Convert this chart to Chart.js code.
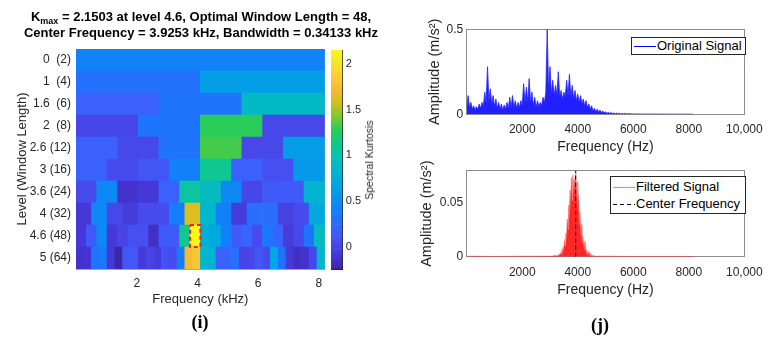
<!DOCTYPE html>
<html><head><meta charset="utf-8">
<script src="https://cdn.jsdelivr.net/npm/chart.js@4/dist/chart.umd.min.js"></script>
<style>
html,body{margin:0;padding:0;background:#fff;}
#wrap{position:relative;width:771px;height:338px;overflow:hidden;font-family:"Liberation Sans",Arial,Helvetica,sans-serif;}
canvas{position:absolute;}
.t{position:absolute;white-space:nowrap;color:#000;}
.ttl{left:0;width:402px;text-align:center;font-weight:bold;font-size:13px;line-height:16px;}
.ttl sub{font-size:9px;vertical-align:-3px;line-height:0;}
.lg{position:absolute;background:#fff;border:1px solid #262626;font-size:13px;color:#000;}
.lg .row{position:absolute;left:0;height:16px;line-height:16px;white-space:nowrap;}
.lg svg{position:absolute;left:1px;top:0;}
.lg span{position:absolute;left:25px;top:0;}
.cap{font-family:"Liberation Serif","Times New Roman",serif;font-weight:bold;font-size:18px;}
</style></head><body>
<div id="wrap">
  <canvas id="heat" width="330" height="338" style="left:0;top:0"></canvas>
  <canvas id="cbar" width="60" height="338" style="left:326px;top:0"></canvas>
  <canvas id="orig" width="371" height="160" style="left:400px;top:0"></canvas>
  <canvas id="filt" width="371" height="178" style="left:400px;top:160px"></canvas>
  <div class="t ttl" id="title1" style="top:9px"></div>
  <div class="t ttl" id="title2" style="top:25px"></div>
  <div class="t" id="cbLabel" style="left:369px;top:160px;font-size:10.5px;color:#262626;transform:translate(-50%,-50%) rotate(-90deg);"></div>
  <div class="lg" style="left:631px;top:37px;width:113px;height:16px;">
    <div class="row" style="top:0;width:113px"><svg width="23" height="16"><line x1="1" y1="8.5" x2="23" y2="8.5" stroke="#0000ff" stroke-width="1"/></svg><span id="lgOrig"></span></div>
  </div>
  <div class="lg" style="left:610px;top:176px;width:134px;height:36px;">
    <div class="row" style="top:2px;width:134px"><svg width="23" height="16"><line x1="1" y1="8.5" x2="23" y2="8.5" stroke="#ff8080" stroke-width="1.2"/></svg><span id="lgFilt"></span></div>
    <div class="row" style="top:19px;width:134px"><svg width="23" height="16"><line x1="1" y1="8.5" x2="23" y2="8.5" stroke="#000" stroke-width="1" stroke-dasharray="4,3"/></svg><span id="lgCenter"></span></div>
  </div>
  <div class="t cap" style="left:200px;top:322px;transform:translate(-50%,-50%);">(i)</div>
  <div class="t cap" style="left:600px;top:325px;transform:translate(-50%,-50%);">(j)</div>
</div>
<script>
// ---------------- DATA ----------------
// Kurtogram (spectral kurtosis per level / frequency band)
const levelLabels = ['0  (2)','1  (4)','1.6  (6)','2  (8)','2.6 (12)','3 (16)','3.6 (24)','4 (32)','4.6 (48)','5 (64)'];
const skLevel0   = [0.42];
const skLevel1   = [0.30, 0.62];
const skLevel1_6 = [0.20, 0.32, 0.88];
const skLevel2   = [0.02, 0.32, 1.28, 0.03];
const skLevel2_6 = [0.20, 0.03, 0.32, 1.33, 0.03, 0.60];
const skLevel3   = [0.20, 0.05, 0.12, 0.40, 1.10, 0.20, 0.08, 0.58];
const skLevel3_6 = [0.05, 0.45, -0.12, -0.08, 0.20, 1.05, 0.92, 0.45, 0.02, 0.15, 0.15, 0.82];
const skLevel4   = [-0.08, 0.45, 0.03, -0.05, 0.06, 0.06, 0.38, 1.62, 0.86, 0.40, -0.05, 0.28, 0.28, -0.02, 0.05, 0.70];
const skLevel4_6 = [-0.08, 0.15, 0.45, -0.08, 0.00, 0.08, 0.08, -0.15, 0.15, 0.15, 1.12, 2.1503, 0.75, 0.70, 0.40, 0.15, 0.22, 0.05, 0.35, 0.22, -0.05, 0.03, 0.32, 0.90];
const skLevel5   = [-0.12, -0.10, 0.32, 0.35, -0.08, -0.24, 0.13, 0.13, -0.07, 0.00, -0.05, 0.10, 0.05, 0.38, 1.72, 1.82, 0.85, 0.82, 0.20, 0.22, 0.30, 0.00, 0.02, 0.12, 0.05, 0.68, 0.32, -0.07, -0.15, -0.12, 0.03, 0.85];
const skRows = [skLevel0, skLevel1, skLevel1_6, skLevel2, skLevel2_6, skLevel3, skLevel3_6, skLevel4, skLevel4_6, skLevel5];
const nyquistKHz = 8.192;
const heatXTicks = [2, 4, 6, 8];
const colorbarTicks = [0, 0.5, 1, 1.5, 2];
const colorbarTickLabels = ['0', '0.5', '1', '1.5', '2'];

// Result of the kurtogram
const kMax = 2.1503, bestLevel = '4.6', bestWindow = 48, bestLevelIndex = 8;
const centerKHz = 3.9253, bandwidthKHz = 0.34133;

// Original signal spectrum (bins every 50 Hz, m/s^2)
const origStepHz = 50;
const origAmp = [
 0.03,0.11,0.04,0.07,0.03,0.05,0.025,0.045,0.03,0.06,
 0.035,0.07,0.045,0.13,0.07,0.28,0.08,0.15,0.06,0.11,
 0.045,0.09,0.035,0.07,0.03,0.06,0.025,0.055,0.03,0.07,
 0.035,0.10,0.04,0.11,0.04,0.08,0.035,0.07,0.04,0.08,
 0.05,0.18,0.07,0.16,0.07,0.21,0.07,0.13,0.05,0.10,
 0.04,0.08,0.045,0.07,0.05,0.10,0.07,0.13,0.50,0.14,
 0.28,0.12,0.20,0.11,0.17,0.11,0.25,0.10,0.14,0.09,
 0.13,0.10,0.20,0.11,0.235,0.10,0.17,0.09,0.14,0.08,
 0.12,0.07,0.11,0.06,0.09,0.05,0.08,0.04,0.06,0.03,
 0.05,0.02,0.035,0.015,0.03,0.012,0.025,0.01,0.02,0.008,
 0.015,0.005,0.012,0.004,0.01,0.003,0.008,0.003,0.007,0.002,
 0.006,0.002,0.005,0.002,0.005,0.0015,0.004,0.0015,0.004,0.001,
 0.003,0.001,0.003,0.001,0.0025,0.001,0.0025,0.001,0.002,0.001,
 0.002,0.001,0.002,0.0008,0.002,0.0008,0.0015,0.0008,0.0015,0.0008,
 0.0015,0.0007,0.0015,0.0007,0.0012,0.0007,0.0012,0.0006,0.0012,0.0006,
 0.001,0.0006,0.001,0.0006,0.001,0.0005,0.001,0.0005,0.001,0.0005,
 0.0008,0.0005,0.0008,0.0005
];

// Filtered signal spectrum
const filtFreqHz = [0,1000,2000,2800,3100,3200,3250,
 3300,3325,3350,3375,3400,3425,3450,3475,3500,3525,3550,3575,3600,3625,3650,3675,3700,3725,3750,3775,3800,3825,3850,3875,3900,3925,3950,3975,4000,4025,4050,4075,4100,4125,4150,4175,4200,4225,4250,4275,4300,4325,4350,4375,4400,4425,4450,4475,4500,
 4550,4600,5000,6000,7000,8192];
const filtAmp = [0.0003,0.0002,0.0003,0.0004,0.0006,0.001,0.0005,
 0.001,0.002,0.001,0.003,0.002,0.005,0.003,0.008,0.006,0.014,0.010,0.022,0.016,0.035,0.025,0.048,0.035,0.062,0.045,0.074,0.052,0.076,0.058,0.072,0.062,0.080,0.052,0.070,0.042,0.058,0.030,0.042,0.020,0.030,0.012,0.020,0.008,0.014,0.005,0.010,0.003,0.006,0.002,0.004,0.001,0.003,0.001,0.002,0.0005,
 0.001,0.0003,0.0003,0.0002,0.0002,0.0002];

const specXTicks = [2000, 4000, 6000, 8000, 10000];
const specXTickLabels = ['2000', '4000', '6000', '8000', '10,000'];
const origYTicks = [0, 0.5];
const filtYTicks = [0, 0.05];

// ---------------- TEXT ----------------
document.getElementById('title1').innerHTML = 'K<sub>max</sub> = ' + kMax + ' at level ' + bestLevel + ', Optimal Window Length = ' + bestWindow + ',';
document.getElementById('title2').textContent = 'Center Frequency = ' + centerKHz + ' kHz, Bandwidth = ' + bandwidthKHz + ' kHz';
document.getElementById('cbLabel').textContent = 'Spectral Kurtosis';
document.getElementById('lgOrig').textContent = 'Original Signal';
document.getElementById('lgFilt').textContent = 'Filtered Signal';
document.getElementById('lgCenter').textContent = 'Center Frequency';

// ---------------- STYLE HELPERS ----------------
const FONT = "'Liberation Sans', Arial, Helvetica, sans-serif";
Chart.defaults.font.family = FONT;
Chart.defaults.color = '#262626';
Chart.defaults.plugins.legend.display = false;
Chart.defaults.plugins.tooltip.enabled = false;

// parula-like colour map (tuned to the rendered reference colours)
const PARULA = [
 [0.2422,0.1504,0.6603],[0.2706,0.2147,0.8364],[0.2813,0.3006,0.9414],[0.2200,0.3900,0.9950],
 [0.0800,0.4847,0.9892],[0.0300,0.5703,0.9359],[0.0100,0.6459,0.8883],[0.0000,0.7082,0.8163],
 [0.0300,0.7500,0.7120],[0.0600,0.7843,0.5500],[0.1500,0.8000,0.3500],[0.5000,0.7900,0.2000],
 [0.8203,0.7498,0.1000],[0.9728,0.7298,0.2000],[0.9892,0.8136,0.1885],[0.9597,0.9135,0.1423],[0.9769,0.9839,0.0805]];
const PARULA_POS = [0,4,8,12,16,20,24,28,32,36,40,44,48,52,56,60,63].map(i => i/63);
function parula(t){
  t = Math.max(0, Math.min(1, t));
  for (let i = 1; i < PARULA_POS.length; i++) {
    if (t <= PARULA_POS[i]) {
      const f = (t - PARULA_POS[i-1]) / (PARULA_POS[i] - PARULA_POS[i-1]);
      const a = PARULA[i-1], b = PARULA[i];
      const c = a.map((v, k) => Math.round(255 * (v + f * (b[k] - v))));
      return 'rgb(' + c.join(',') + ')';
    }
  }
  return 'rgb(249,251,20)';
}
function boxAxis(pos, color){
  return { type:'linear', position:pos, display:true, offset:false,
    ticks:{display:false}, grid:{display:false, drawTicks:false},
    border:{display:true, color:color, width:1},
    afterFit: s => { if (pos === 'top' || pos === 'bottom') s.height = 0; else s.width = 0; } };
}
const baseOpts = { responsive:false, animation:false, devicePixelRatio:1, events:[] };

// ---------------- KURTOGRAM ----------------
const allSk = skRows.flat();
const cMin = Math.min(...allSk), cMax = Math.max(...allSk);
const cells = [], cellColors = [];
skRows.forEach((row, li) => {
  const bw = nyquistKHz / row.length;
  row.forEach((v, k) => {
    cells.push({ x:[k*bw, (k+1)*bw], y: levelLabels[li] });
    cellColors.push(parula((v - cMin) / (cMax - cMin)));
  });
});
const selLo = centerKHz - bandwidthKHz/2, selHi = centerKHz + bandwidthKHz/2;
const selRect = [
  {x:selLo, y:bestLevelIndex}, {x:selHi, y:bestLevelIndex},
  {x:selHi, y:bestLevelIndex+1}, {x:selLo, y:bestLevelIndex+1}, {x:selLo, y:bestLevelIndex}];
const heatBorder = '#a6a6a6';
new Chart(document.getElementById('heat'), {
  type:'bar',
  data:{ datasets:[
    { type:'line', order:0, xAxisID:'x', yAxisID:'yr', data:selRect, borderColor:'#ff1a1a', borderWidth:2,
      borderDash:[4,3], pointRadius:0, fill:false, tension:0 },
    { type:'bar', order:1, indexAxis:'y', xAxisID:'x', yAxisID:'y', data:cells, backgroundColor:cellColors,
      borderWidth:0, barPercentage:1, categoryPercentage:1, grouped:false }
  ]},
  options: Object.assign({}, baseOpts, {
    layout:{ padding:{left:0, right:4, top:49, bottom:31.2}, autoPadding:false },
    scales:{
      x:{ type:'linear', position:'bottom', min:0, max:nyquistKHz, offset:false, grid:{display:false, drawTicks:false, offset:false},
          afterBuildTicks: s => { s.ticks = heatXTicks.map(v => ({value:v})); },
          ticks:{ callback: (v) => String(v), font:{size:12}, padding:7.6, maxRotation:0, autoSkip:false, color:'#262626' },
          border:{display:true, color:heatBorder},
          title:{ display:true, text:'Frequency (kHz)', font:{size:13}, color:'#262626', padding:{top:0, bottom:0} },
          afterFit: s => { s.height = 37.8; } },
      y:{ type:'category', position:'left', labels:levelLabels, offset:true,
          ticks:{ font:{size:12}, padding:5, autoSkip:false, color:'#262626' },
          grid:{display:false, drawTicks:false}, border:{display:true, color:heatBorder},
          title:{ display:true, text:'Level (Window Length)', font:{size:13}, color:'#262626', padding:{top:15, bottom:0} },
          afterFit: s => { s.width = 76; } },
      yr:{ type:'linear', display:false, min:0, max:skRows.length, reverse:true, offset:false },
      xt: boxAxis('top', heatBorder),
      yt: boxAxis('right', heatBorder)
    }
  })
});

// ---------------- COLORBAR ----------------
const cbN = 128, cbSegs = [], cbColors = [];
for (let i = 0; i < cbN; i++) {
  const lo = cMin + (cMax - cMin) * i / cbN, hi = cMin + (cMax - cMin) * (i + 1) / cbN;
  cbSegs.push({ x:'SK', y:[lo, hi] });
  cbColors.push(parula((i + 0.5) / cbN));
}
const cbBorder = '#262626';
new Chart(document.getElementById('cbar'), {
  type:'bar',
  data:{ labels:['SK'], datasets:[{ data:cbSegs, backgroundColor:cbColors, borderWidth:0, barPercentage:1, categoryPercentage:1 }] },
  options: Object.assign({}, baseOpts, {
    layout:{ padding:{left:5, right:13.7, top:50, bottom:69}, autoPadding:false },
    scales:{
      x:{ type:'category', position:'bottom', offset:true, ticks:{display:false}, grid:{display:false, drawTicks:false},
          border:{display:true, color:cbBorder}, afterFit: s => { s.height = 0; } },
      y:{ type:'linear', position:'right', min:cMin, max:cMax,
          afterBuildTicks: s => { s.ticks = colorbarTicks.map(v => ({value:v})); },
          ticks:{ callback:(v, i) => colorbarTickLabels[i], font:{size:11}, padding:3.5, color:'#262626', autoSkip:false },
          grid:{display:false, drawTicks:false}, border:{display:true, color:cbBorder},
          afterFit: s => { s.width = 30; } },
      yl: boxAxis('left', cbBorder),
      xt: boxAxis('top', cbBorder)
    }
  })
});

// ---------------- SPECTRA ----------------
const specBorder = '#8c8c8c';
function specScales(yMax, yTicks, yTitlePad, xAxisH){
  return {
    x:{ type:'linear', position:'bottom', min:0, max:10000, offset:false,
        afterBuildTicks: s => { s.ticks = specXTicks.map(v => ({value:v})); },
        ticks:{ callback:(v, i) => specXTickLabels[i], font:{size:12}, padding:8.3, maxRotation:0, autoSkip:false, color:'#262626' },
        grid:{display:false, drawTicks:false}, border:{display:true, color:specBorder},
        title:{ display:true, text:'Frequency (Hz)', font:{size:14}, color:'#262626', padding:{top:0, bottom:0} },
        afterFit: s => { s.height = xAxisH; } },
    y:{ type:'linear', position:'left', min:0, max:yMax,
        afterBuildTicks: s => { s.ticks = yTicks.map(v => ({value:v})); },
        ticks:{ callback:(v) => String(v), font:{size:12}, padding:3.5, color:'#262626', autoSkip:false },
        grid:{display:false, drawTicks:false}, border:{display:true, color:specBorder},
        title:{ display:true, text:'Amplitude (m/s\u00B2)', font:{size:14.5}, color:'#262626', padding:{top:yTitlePad, bottom:0} },
        afterFit: s => { s.width = 66.7; } },
    xt: boxAxis('top', specBorder),
    yt: boxAxis('right', specBorder)
  };
}
new Chart(document.getElementById('orig'), {
  type:'line',
  data:{ datasets:[{ data: origAmp.map((a, i) => ({x: i*origStepHz, y: a})),
    borderColor:'rgba(40,40,255,0.85)', backgroundColor:'rgba(0,0,255,0.88)', borderWidth:1,
    pointRadius:0, fill:'origin', tension:0 }] },
  options: Object.assign({}, baseOpts, {
    layout:{ padding:{left:0, right:19.3, top:29.3, bottom:4.9}, autoPadding:false },
    scales: specScales(0.5, origYTicks, 26.3, 40.8)
  })
});
new Chart(document.getElementById('filt'), {
  type:'line',
  data:{ datasets:[
    { order:0, data:[{x:centerKHz*1000, y:0}, {x:centerKHz*1000, y:0.08}], borderColor:'#000', borderWidth:1,
      borderDash:[4,3], pointRadius:0, fill:false },
    { order:1, data: filtFreqHz.map((f, i) => ({x:f, y:filtAmp[i]})),
      borderColor:'rgba(255,60,60,0.6)', backgroundColor:'rgba(255,0,0,0.85)', borderWidth:1.2,
      pointRadius:0, fill:'origin', tension:0 }
  ]},
  options: Object.assign({}, baseOpts, {
    layout:{ padding:{left:0, right:19.3, top:10.7, bottom:39.6}, autoPadding:false },
    scales: specScales(0.08, filtYTicks, 18, 41.7)
  })
});
</script>
</body></html>
